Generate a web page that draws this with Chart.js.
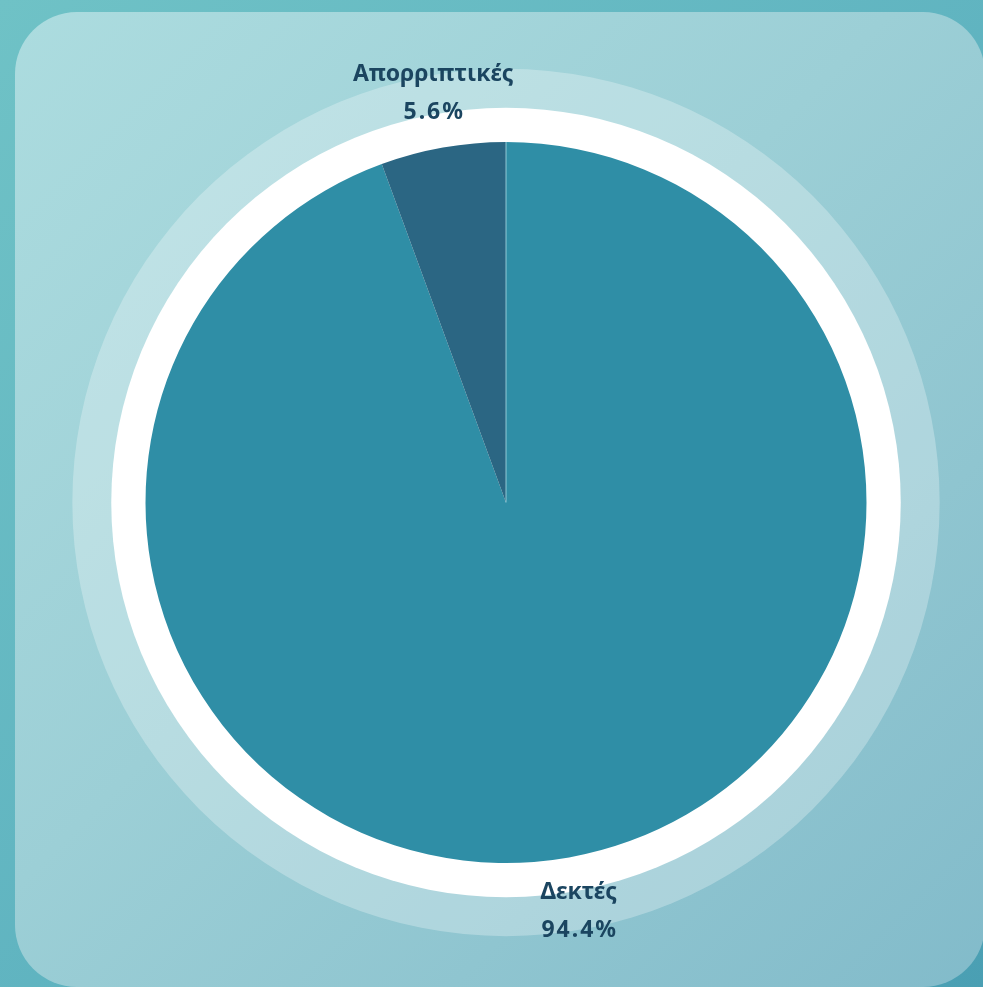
<!DOCTYPE html>
<html lang="el">
<head>
<meta charset="utf-8">
<title>Δεκτές / Απορριπτικές</title>
<script src="https://cdn.jsdelivr.net/npm/chart.js@4/dist/chart.umd.min.js"></script>
<style>
  html, body {
    margin: 0;
    padding: 0;
    width: 983px;
    height: 987px;
    overflow: hidden;
    background: linear-gradient(135deg, #6fc2c6 0%, #5fb3c0 55%, #4a9fb3 100%);
  }
  .panel {
    position: absolute;
    left: 15px;
    top: 12px;
    width: 970px;
    height: 975px;
    border-radius: 62px;
    background: linear-gradient(135deg, #acdcdf 0%, #9ccfd6 45%, #82bbca 100%);
  }
  .chart-box {
    position: absolute;
    left: 0;
    top: 0;
    width: 983px;
    height: 987px;
  }
</style>
</head>
<body>
<div class="panel"></div>
<div class="chart-box"><canvas id="chart-pie"></canvas></div>
<script>
/* ------------------------------
 * data
 * ------------------------------ */
const LABELS = ['Δεκτές', 'Απορριπτικές'];
const VALUES = [94.4, 5.6];

const COLORS = {
  slices: ['#2f8ea6', '#2b6683'],
  text: '#1b4560',
  halo: 'rgba(255, 255, 255, 0.28)',
  ring: '#ffffff',
  seam: 'rgba(170, 220, 230, 0.8)'
};

/* ------------------------------
 * rings behind the pie
 * ------------------------------ */
const ringPlugin = {
  id: 'rings',
  beforeDatasetsDraw(chart) {
    const arc = chart.getDatasetMeta(0).data[0];
    if (!arc) return;
    const { x, y, outerRadius } = arc.getProps(['x', 'y', 'outerRadius'], true);
    const ctx = chart.ctx;
    ctx.save();
    // soft halo
    ctx.beginPath();
    ctx.arc(x, y, outerRadius * 1.203, 0, Math.PI * 2);
    ctx.fillStyle = COLORS.halo;
    ctx.fill();
    // white ring
    ctx.beginPath();
    ctx.arc(x, y, outerRadius * 1.095, 0, Math.PI * 2);
    ctx.fillStyle = COLORS.ring;
    ctx.fill();
    ctx.restore();
  }
};

/* ------------------------------
 * outside labels (name + %) + seam at start angle
 * ------------------------------ */
const labelPlugin = {
  id: 'outsideLabels',
  afterDatasetsDraw(chart) {
    const ctx = chart.ctx;
    const meta = chart.getDatasetMeta(0);
    const total = VALUES.reduce((a, b) => a + b, 0);

    // thin light line where the first slice starts
    const first = meta.data[0].getProps(['x', 'y', 'startAngle', 'outerRadius'], true);
    ctx.save();
    ctx.strokeStyle = COLORS.seam;
    ctx.lineWidth = 1;
    ctx.beginPath();
    ctx.moveTo(first.x, first.y);
    ctx.lineTo(first.x + Math.cos(first.startAngle) * first.outerRadius,
               first.y + Math.sin(first.startAngle) * first.outerRadius);
    ctx.stroke();

    ctx.fillStyle = COLORS.text;
    ctx.textAlign = 'center';
    ctx.textBaseline = 'middle';
    ctx.font = 'bold 23px "Noto Sans", "Open Sans", sans-serif';

    meta.data.forEach((arc, i) => {
      const p = arc.getProps(['x', 'y', 'startAngle', 'endAngle', 'outerRadius'], true);
      const mid = (p.startAngle + p.endAngle) / 2;
      const r = p.outerRadius * 1.153;
      const lx = p.x + Math.cos(mid) * r;
      const ly = p.y + Math.sin(mid) * r;
      const pct = (VALUES[i] / total * 100).toFixed(1) + '%';
      ctx.letterSpacing = '0px';
      ctx.fillText(LABELS[i], lx, ly - 19);
      ctx.letterSpacing = '2px';
      ctx.fillText(pct, lx + 1, ly + 19);
    });
    ctx.restore();
  }
};

const ctxPie = document.getElementById('chart-pie');

new Chart(ctxPie, {
  type: 'pie',
  plugins: [ringPlugin, labelPlugin],
  data: {
    labels: LABELS,
    datasets: [{
      data: VALUES,
      backgroundColor: COLORS.slices,
      borderWidth: 0
    }]
  },
  options: {
    responsive: true,
    maintainAspectRatio: false,
    animation: false,
    layout: {
      padding: { left: 145, right: 116, top: 142, bottom: 124 }
    },
    plugins: {
      legend: { display: false },
      tooltip: { enabled: false }
    }
  }
});
</script>
</body>
</html>
